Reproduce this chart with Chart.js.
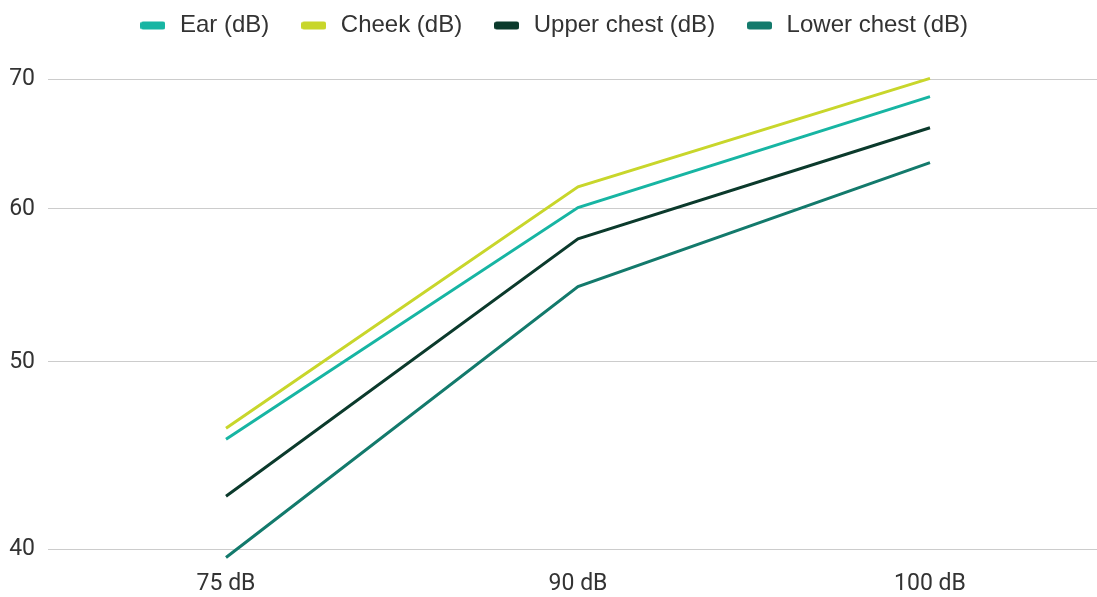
<!DOCTYPE html>
<html>
<head>
<meta charset="utf-8">
<script src="https://cdn.jsdelivr.net/npm/chart.js@4.4.1/dist/chart.umd.min.js"></script>
<style>
  html, body { margin: 0; padding: 0; background: #ffffff; overflow: hidden; }
  #wrap { width: 1106px; height: 597px; }
</style>
</head>
<body>
<div id="wrap"><canvas id="c" width="1106" height="597"></canvas></div>
<script>
const categories = ['75 dB', '90 dB', '100 dB'];
const seriesNames = ['Ear (dB)', 'Cheek (dB)', 'Upper chest (dB)', 'Lower chest (dB)'];
const earValues = [45.6, 60.1, 68.6];
const cheekValues = [46.2, 61.6, 70.1];
const upperChestValues = [42.6, 57.9, 66.1];
const lowerChestValues = [39.6, 54.7, 63.4];
const yTickValues = [40, 50, 60, 70];
const seriesColors = ['#17b5a3', '#c8d62b', '#0b3a2c', '#137a6c'];

const TICK_FONT = 'Roboto';
const LEGEND_FONT = '"Liberation Sans", Arial, sans-serif';
const TEXT = '#333333';

function markerFor(color) {
  const c = document.createElement('canvas');
  c.width = 25; c.height = 9;
  const g = c.getContext('2d');
  g.fillStyle = color;
  g.beginPath();
  if (g.roundRect) g.roundRect(0, 0.5, 25, 8, 2.5); else g.rect(0, 0.5, 25, 8);
  g.fill();
  return c;
}

const legendTweak = {
  id: 'legendTweak',
  beforeLayout(chart) {
    const lg = chart.legend;
    if (!lg || lg._tweaked) return;
    lg._tweaked = true;
    const fit = lg.fit;
    lg.fit = function () { fit.call(this); this.height = 56; };
    const draw = lg.draw;
    lg.draw = function () {
      const ctx = this.ctx;
      ctx.save();
      ctx.translate(0, -16);
      draw.apply(this, arguments);
      ctx.restore();
    };
  }
};

const allValues = [earValues, cheekValues, upperChestValues, lowerChestValues];

new Chart(document.getElementById('c'), {
  type: 'line',
  data: {
    labels: categories,
    datasets: seriesNames.map((name, i) => ({
      label: name,
      data: allValues[i],
      borderColor: seriesColors[i],
      backgroundColor: seriesColors[i],
      borderWidth: 3,
      pointRadius: 0,
      pointHoverRadius: 0,
      pointStyle: markerFor(seriesColors[i]),
      tension: 0,
      fill: false
    }))
  },
  options: {
    responsive: false,
    animation: false,
    devicePixelRatio: 1,
    layout: { padding: 0 },
    plugins: {
      tooltip: { enabled: false },
      legend: {
        position: 'top',
        align: 'center',
        labels: {
          color: TEXT,
          font: { family: LEGEND_FONT, size: 24 },
          usePointStyle: true,
          pointStyleWidth: 30,
          boxHeight: 8,
          padding: 29.5
        }
      }
    },
    scales: {
      x: {
        offset: true,
        grid: { display: false, drawTicks: false },
        border: { display: false },
        ticks: {
          color: TEXT,
          font: { family: TICK_FONT, size: 23 },
          padding: 11,
          maxRotation: 0
        },
        afterFit(scale) { scale.height = 37.4; }
      },
      y: {
        type: 'logarithmic',
        min: 39.5,
        max: 72,
        grid: { color: '#cccccc', lineWidth: 1, drawTicks: true, tickLength: 2, tickColor: '#cccccc' },
        border: { display: false },
        ticks: {
          color: TEXT,
          font: { family: TICK_FONT, size: 23 },
          padding: 13,
          callback: (v) => String(v)
        },
        afterBuildTicks(scale) {
          scale.ticks = yTickValues.map(v => ({ value: v }));
        },
        afterFit(scale) { scale.width = 50; }
      }
    }
  },
  plugins: [legendTweak]
});
</script>
</body>
</html>
